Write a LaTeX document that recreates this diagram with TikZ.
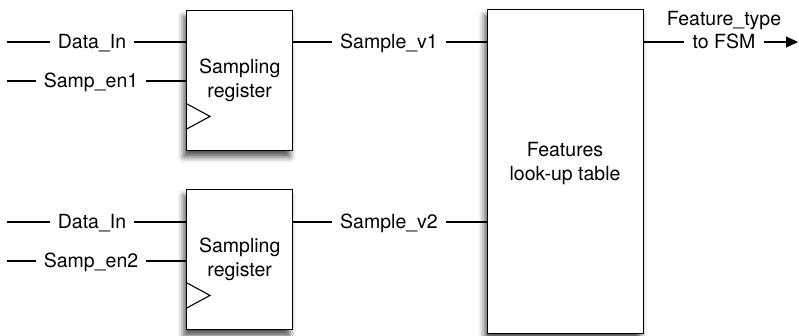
\documentclass[tikz,border=0pt]{standalone}
\usepackage{fontspec}
\setmainfont{TeX Gyre Heros}
\usetikzlibrary{arrows.meta,shadows.blur,positioning}

\tikzset{
  regbox/.style={draw,line width=1.4pt,fill=white,anchor=north west,
    align=center,inner sep=0pt,
    blur shadow={shadow xshift=-3pt,shadow yshift=-6pt,shadow blur radius=6pt,
      shadow opacity=70}},
  sig/.style={inner xsep=8pt,inner ysep=0pt,text height=14pt,text depth=0pt},
  wire/.style={line width=1.1pt}
}

\begin{document}
\begin{tikzpicture}[x=1pt,y=-1pt,font=\fontsize{19.5}{24}\selectfont]
\useasboundingbox (0,0) rectangle (799,336);

% registers and table
\node[regbox,minimum width=106pt,minimum height=140pt] (reg1) at (186,10) {Sampling\\register};
\node[regbox,minimum width=106pt,minimum height=140pt] (reg2) at (186,189) {Sampling\\register};
\node[regbox,minimum width=156pt,minimum height=324pt] (lut) at (487,9) {};
\node[align=center] (lutlab) at (565,164) {Features\\look-up table};

% clock inputs
\draw[wire] (reg1.south west) ++(0,-48) -- ++(24,13) -- ++(-24,13);
\draw[wire] (reg2.south west) ++(0,-48) -- ++(24,13) -- ++(-24,13);

% inputs
\node[sig] (din1) at (92,42) {Data\_In};
\node[sig] (en1) at (91,81) {Samp\_en1};
\node[sig] (din2) at (92,222) {Data\_In};
\node[sig] (en2) at (91,261) {Samp\_en2};
\coordinate (din1s) at (7,42);
\coordinate (en1s) at (7,81);
\coordinate (din2s) at (7,222);
\coordinate (en2s) at (7,261);
\draw[wire] (din1s) -- (din1.west) (din1.east) -- (din1 -| reg1.west);
\draw[wire] (en1s) -- (en1.west) (en1.east) -- (en1 -| reg1.west);
\draw[wire] (din2s) -- (din2.west) (din2.east) -- (din2 -| reg2.west);
\draw[wire] (en2s) -- (en2.west) (en2.east) -- (en2 -| reg2.west);

% samples to table
\node[sig] (sv1) at (389,42) {Sample\_v1};
\node[sig] (sv2) at (389,222) {Sample\_v2};
\draw[wire] (sv1 -| reg1.east) -- (sv1.west) (sv1.east) -- (sv1 -| lut.west);
\draw[wire] (sv2 -| reg2.east) -- (sv2.west) (sv2.east) -- (sv2 -| lut.west);

% output
\node[sig] (tofsm) at (724,42) {to FSM};
\node[sig] (ftype) at (724,19) {Feature\_type};
\coordinate (fsm) at (798,42);
\draw[wire] (tofsm -| lut.east) -- (tofsm.west);
\draw[wire,-{Triangle[length=12pt,width=11pt]}] (tofsm.east) -- (fsm);
\end{tikzpicture}
\end{document}
